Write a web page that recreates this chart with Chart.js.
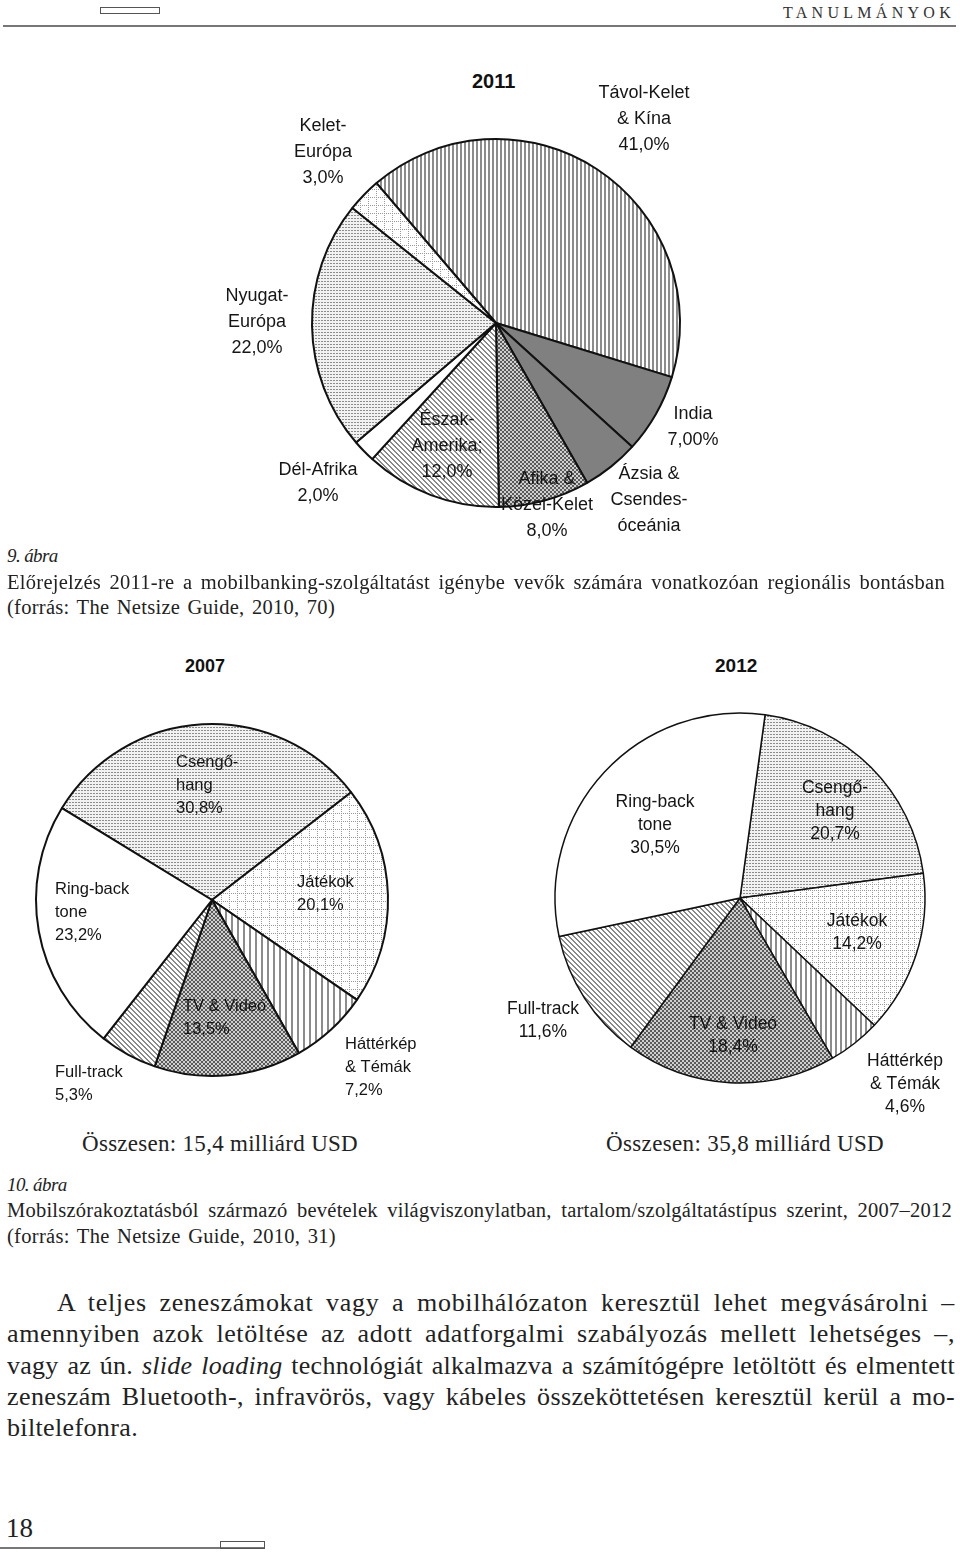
<!DOCTYPE html>
<html>
<head>
<meta charset="utf-8">
<script src="https://cdn.jsdelivr.net/npm/chart.js@4.4.0/dist/chart.umd.min.js"></script>
<style>
  body { margin: 0; background: #fff; width: 960px; height: 1553px; position: relative; overflow: hidden;
         font-family: "Liberation Serif", serif; color: #222; }
  .t { position: absolute; white-space: nowrap; }
  .cap { font-size: 20.5px; line-height: 24px; }
  .it { font-size: 19px; line-height: 24px; font-style: italic; letter-spacing: -0.6px; }
  .body { font-size: 26px; line-height: 30px; }
  .sum { font-size: 23px; line-height: 28px; }
  .yr { position: absolute; font-family: "Liberation Sans", Arial, sans-serif; font-weight: bold; color: #111; }
  canvas { position: absolute; }
  .box { position: absolute; border: 1px solid #555; box-sizing: border-box; }
  .rule { position: absolute; height: 2px; background: #777; }
</style>
</head>
<body>

<!-- fejléc -->
<div class="box" style="left:100px;top:7px;width:60px;height:7px"></div>
<div class="t" data-w="172" style="left:783px;top:4px;font-size:16px;color:#333">TANULMÁNYOK</div>
<div class="rule" style="left:3px;top:25px;width:953px"></div>

<!-- 9. ábra -->
<div class="yr" style="left:472px;top:70px;font-size:20px">2011</div>
<canvas id="pie2011" width="560" height="540" style="left:216px;top:53px"></canvas>
<div class="t it" style="left:7px;top:544px">9. ábra</div>
<div class="t cap" data-w="938" style="left:7px;top:570px">Előrejelzés 2011-re a mobilbanking-szolgáltatást igénybe vevők számára vonatkozóan regionális bontásban</div>
<div class="t cap" data-w="328" style="left:7px;top:595px">(forrás: The Netsize Guide, 2010, 70)</div>

<!-- 10. ábra -->
<div class="yr" style="left:185px;top:656px;font-size:18px">2007</div>
<div class="yr" style="left:715px;top:655px;font-size:19px">2012</div>
<canvas id="pie2007" width="430" height="430" style="left:-3px;top:685px"></canvas>
<canvas id="pie2012" width="480" height="460" style="left:500px;top:668px"></canvas>
<div class="t sum" data-w="276" style="left:82px;top:1130px">Összesen: 15,4 milliárd USD</div>
<div class="t sum" data-w="278" style="left:606px;top:1130px">Összesen: 35,8 milliárd USD</div>
<div class="t it" style="left:7px;top:1173px">10. ábra</div>
<div class="t cap" data-w="945" style="left:7px;top:1198px">Mobilszórakoztatásból származó bevételek világviszonylatban, tartalom/szolgáltatástípus szerint, 2007–2012</div>
<div class="t cap" data-w="329" style="left:7px;top:1224px">(forrás: The Netsize Guide, 2010, 31)</div>

<!-- szövegtörzs -->
<div class="t body" data-w="898" style="left:57px;top:1288px">A teljes zeneszámokat vagy a mobilhálózaton keresztül lehet megvásárolni –</div>
<div class="t body" data-w="948" style="left:7px;top:1319px">amennyiben azok letöltése az adott adatforgalmi szabályozás mellett lehetséges –,</div>
<div class="t body" data-w="948" style="left:7px;top:1351px">vagy az ún. <i>slide loading</i> technológiát alkalmazva a számítógépre letöltött és elmentett</div>
<div class="t body" data-w="948" style="left:7px;top:1382px">zeneszám Bluetooth-, infravörös, vagy kábeles összeköttetésen keresztül kerül a mo-</div>
<div class="t body" data-w="131" style="left:7px;top:1413px">biltelefonra.</div>

<!-- lábléc -->
<div class="t" style="left:6px;top:1512px;font-size:27px;line-height:32px">18</div>
<div class="rule" style="left:0;top:1547px;width:265px"></div>
<div class="box" style="left:220px;top:1541px;width:45px;height:8px"></div>

<script>
// 9. ábra adatai (2011, régiók szerint, %)
const regions2011 = ['Távol-Kelet & Kína', 'India', 'Ázsia & Csendes-óceánia', 'Afika & Közel-Kelet',
                     'Észak-Amerika', 'Dél-Afrika', 'Nyugat-Európa', 'Kelet-Európa'];
const share2011 = [41.0, 7.0, 5.0, 8.0, 12.0, 2.0, 22.0, 3.0];
const lines2011 = [['Távol-Kelet', '& Kína'], ['India'], ['Ázsia &', 'Csendes-', 'óceánia'], ['Afika &', 'Közel-Kelet'],
                   ['Észak-', 'Amerika;'], ['Dél-Afrika'], ['Nyugat-', 'Európa'], ['Kelet-', 'Európa']];
const decimals2011 = [1, 2, null, 1, 1, 1, 1, 1];   // Ázsiánál nincs százalék a képen

// 10. ábra adatai (tartalomtípus szerint, %)
const contentTypes = ['Csengőhang', 'Játékok', 'Háttérkép & Témák', 'TV & Videó', 'Full-track', 'Ring-back tone'];
const contentLines = [['Csengő-', 'hang'], ['Játékok'], ['Háttérkép', '& Témák'], ['TV & Videó'], ['Full-track'], ['Ring-back', 'tone']];
const share2007 = [30.8, 20.1, 7.2, 13.5, 5.3, 23.2];
const share2012 = [20.7, 14.2, 4.6, 18.4, 11.6, 30.5];

// mintázatok a szkennelt fekete-fehér kitöltésekhez
function tile(size, draw) {
    const c = document.createElement('canvas');
    c.width = size; c.height = size;
    const g = c.getContext('2d');
    draw(g, size);
    return document.createElement('canvas').getContext('2d').createPattern(c, 'repeat');
}
const fills = {
    white: '#ffffff',
    gray: '#808080',
    vlines: (p) => tile(p, (g, s) => { g.fillStyle = '#fff'; g.fillRect(0, 0, s, s); g.fillStyle = '#8c8c8c'; g.fillRect(0, 0, 2, s); }),
    diag: () => tile(5, (g, s) => {
        g.fillStyle = '#fff'; g.fillRect(0, 0, s, s); g.fillStyle = '#8a8a8a';
        for (let i = 0; i < s; i++) { g.fillRect(i, i, 1, 1); g.fillRect((i + 1) % s, i, 1, 1); }
    }),
    checker: () => tile(4, (g, s) => {
        g.fillStyle = '#cfcfcf'; g.fillRect(0, 0, s, s); g.fillStyle = '#5a5a5a';
        g.fillRect(0, 0, 2, 2); g.fillRect(2, 2, 2, 2);
    }),
    dots: () => tile(3, (g, s) => {
        g.fillStyle = '#f2f2f2'; g.fillRect(0, 0, s, s); g.fillStyle = '#8c8c8c'; g.fillRect(0, 0, 2, 1);
    }),
    grid: (p) => tile(p, (g, s) => {
        g.fillStyle = '#fff'; g.fillRect(0, 0, s, s); g.fillStyle = '#9a9a9a';
        for (let i = 0; i < s; i += 2) { g.fillRect(i, 0, 1, 1); g.fillRect(0, i, 1, 1); }
    })
};

function pct(v, d) {
    return v.toFixed(d).replace('.', ',') + '%';
}

// címkék kirajzolása a kördiagram középpontjához képest
const sliceLabels = {
    id: 'sliceLabels',
    afterDatasetsDraw(chart, args, opts) {
        const arc = chart.getDatasetMeta(0).data[0];
        const ctx = chart.ctx;
        ctx.save();
        ctx.font = opts.font;
        ctx.fillStyle = '#151515';
        ctx.textAlign = opts.align;
        ctx.textBaseline = 'middle';
        opts.texts.forEach((lines, i) => {
            const [dx, dy] = opts.anchors[i];
            const y0 = arc.y + dy - (lines.length - 1) * opts.lineHeight / 2;
            lines.forEach((s, k) => ctx.fillText(s, arc.x + dx, y0 + k * opts.lineHeight));
        });
        ctx.restore();
    }
};

function renderPie(id, values, colors, opts) {
    const ctx = document.getElementById(id).getContext('2d');
    return new Chart(ctx, {
        type: 'pie',
        data: {
            labels: opts.labels,
            datasets: [{
                data: values,
                backgroundColor: colors,
                borderColor: '#111',
                borderWidth: opts.border,
                hoverOffset: 0
            }]
        },
        options: {
            responsive: false,
            animation: false,
            rotation: opts.rotation,
            radius: opts.radius,
            layout: { padding: 0 },
            events: [],
            plugins: {
                legend: { display: false },
                tooltip: { enabled: false },
                sliceLabels: {
                    texts: opts.texts,
                    anchors: opts.anchors,
                    font: opts.font,
                    align: opts.align,
                    lineHeight: opts.lineHeight
                }
            }
        },
        plugins: [sliceLabels]
    });
}

// a szkennelt szedés sorszélességeihez igazítjuk a szó- és betűközt
function fitLines() {
    document.querySelectorAll('[data-w]').forEach(el => {
        const target = +el.dataset.w;
        const extra = target - el.getBoundingClientRect().width;
        const text = el.textContent;
        const spaces = (text.match(/ /g) || []).length;
        if (spaces > 3) {
            el.style.wordSpacing = (extra * 0.5 / spaces) + 'px';
            el.style.letterSpacing = (extra * 0.5 / text.length) + 'px';
        } else {
            el.style.letterSpacing = (extra / text.length) + 'px';
        }
    });
}

document.addEventListener('DOMContentLoaded', function () {
    fitLines();

    renderPie('pie2011', share2011,
        [fills.vlines(4), fills.gray, fills.gray, fills.checker(), fills.diag(), fills.white, fills.dots(), fills.grid(8)],
        {
            labels: regions2011,
            rotation: -40.5, radius: 184, border: 2,
            texts: lines2011.map((l, i) => decimals2011[i] === null ? l : l.concat(pct(share2011[i], decimals2011[i]))),
            anchors: [[148, -204], [197, 104], [153, 177], [51, 182], [-49, 123], [-178, 160], [-239, -1], [-173, -171]],
            font: '18px "Liberation Sans", Arial, sans-serif', align: 'center', lineHeight: 26
        });

    renderPie('pie2007', share2007,
        [fills.dots(), fills.grid(8), fills.vlines(6), fills.checker(), fills.diag(), fills.white],
        {
            labels: contentTypes,
            rotation: -58.5, radius: 176, border: 2,
            texts: contentLines.map((l, i) => l.concat(pct(share2007[i], 1))),
            anchors: [[-36, -115], [85, -6], [133, 167], [-29, 118], [-157, 184], [-157, 12]],
            font: '16.5px "Liberation Sans", Arial, sans-serif', align: 'left', lineHeight: 23
        });

    renderPie('pie2012', share2012,
        [fills.dots(), fills.grid(6), fills.vlines(5), fills.checker(), fills.diag(), fills.white],
        {
            labels: contentTypes,
            rotation: 7.8, radius: 185, border: 1.5,
            texts: contentLines.map((l, i) => l.concat(pct(share2012[i], 1))),
            anchors: [[95, -87], [117, 35], [165, 186], [-7, 138], [-197, 123], [-85, -73]],
            font: '17.5px "Liberation Sans", Arial, sans-serif', align: 'center', lineHeight: 23
        });
});
</script>
</body>
</html>
